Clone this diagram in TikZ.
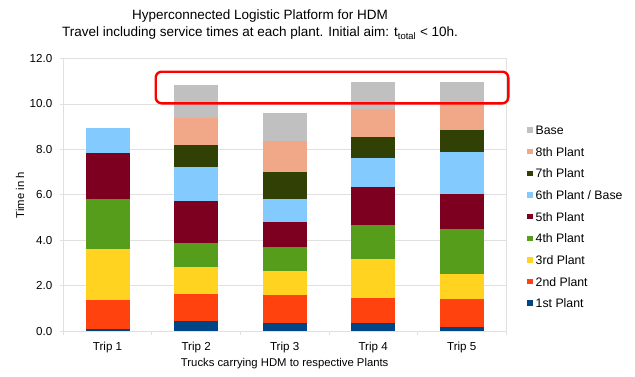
\documentclass[tikz,border=0pt]{standalone}
\usepackage{fontspec}
\setmainfont{Liberation Sans}

% segment colours, bottom (1st Plant) to top (Base)
\definecolor{seg1}{HTML}{004586}
\definecolor{seg2}{HTML}{FF420E}
\definecolor{seg3}{HTML}{FFD320}
\definecolor{seg4}{HTML}{579D1C}
\definecolor{seg5}{HTML}{7E0021}
\definecolor{seg6}{HTML}{83CAFF}
\definecolor{seg7}{HTML}{314004}
\definecolor{seg8}{HTML}{F0A889}
\definecolor{seg9}{HTML}{C0C0C0}
\definecolor{gridc}{HTML}{E0E0E0}
\definecolor{markred}{HTML}{FF0000}

\begin{document}
\begin{tikzpicture}[x=1pt,y=-1pt,
  gridline/.style={draw=gridc,line width=0.8pt},
  ticklabel/.style={font=\fontsize{11.6}{13}\selectfont,inner sep=0pt},
  axistitle/.style={font=\fontsize{11.3}{13}\selectfont,inner sep=0pt},
  titletext/.style={font=\fontsize{13.5}{16}\selectfont,inner sep=0pt},
  legendtext/.style={font=\fontsize{12.3}{14}\selectfont,inner sep=0pt,anchor=west},
  highlight/.style={draw=markred,line width=2.4pt,rounded corners=6pt}]
\useasboundingbox (0,0) rectangle (635,376);
\fill[white] (0,0) rectangle (635,376);

% value axis: 0 h at y=331, 22.71 pt per hour
\def\yzero{331}
\def\yunit{22.71}

% horizontal gridlines with tick labels
\foreach \v in {0,2,...,12} {
  \draw[gridline] (59.5,{\yzero-\yunit*\v}) -- (506,{\yzero-\yunit*\v});
  \node[ticklabel,anchor=east] (yl\v) at (52.5,{\yzero-\yunit*\v}) {\v.0};
}
% axes frame
\draw[gridline] (63.3,{\yzero-\yunit*12}) -- (63.3,\yzero);
\draw[gridline] (506,{\yzero-\yunit*12}) -- (506,\yzero);
\foreach \k in {0,...,5}
  \draw[gridline] ({63.3+88.54*\k},\yzero) -- ({63.3+88.54*\k},335);

% stacked bars: cumulative top of each segment in hours
\foreach \t/\list in {
    1/{0.10,1.36,3.63,5.82,7.85,8.95},
    2/{0.45,1.64,2.83,3.87,5.73,7.20,8.21,9.37,10.84},
    3/{0.34,1.58,2.63,3.71,4.81,5.82,7.02,8.36,9.58},
    4/{0.37,1.44,3.16,4.65,6.32,7.61,8.55,9.77,10.96},
    5/{0.16,1.42,2.50,4.47,6.04,7.87,8.84,10.05,10.96}} {
  \pgfmathsetmacro{\xc}{63.3+88.54*(\t-0.5)}
  \foreach \top [count=\i, remember=\top as \prev (initially 0)] in \list {
    \fill[seg\i] ({\xc-22},{\yzero-\yunit*\prev}) rectangle ({\xc+22},{\yzero-\yunit*\top});
  }
  \node[ticklabel] (trip\t) at (\xc,347) {Trip \t};
}

% titles
\node[titletext] (title1) at (260,16) {Hyperconnected Logistic Platform for HDM};
\node[titletext] (title2) at (260,33.5) {Travel including service times at each plant. Initial aim: t\textsubscript{total} < 10h.};
\node[axistitle] (xtitle) at (284.7,363.5) {Trucks carrying HDM to respective Plants};
\node[axistitle,rotate=90] (ytitle) at (20,195) {Time in h};

% highlighted region above 10 h
\draw[highlight] (155.7,71.7) rectangle (508.3,103.3);

% legend
\foreach \name/\c [count=\r from 0] in {Base/seg9,8th Plant/seg8,7th Plant/seg7,{6th Plant / Base}/seg6,5th Plant/seg5,4th Plant/seg4,3rd Plant/seg3,2nd Plant/seg2,1st Plant/seg1} {
  \pgfmathsetmacro{\yy}{130+21.66*\r}
  \fill[\c] (527,{\yy-2.8}) rectangle (532.6,{\yy+2.8});
  \node[legendtext] (leg\r) at (535.5,\yy) {\name};
}
\end{tikzpicture}
\end{document}
